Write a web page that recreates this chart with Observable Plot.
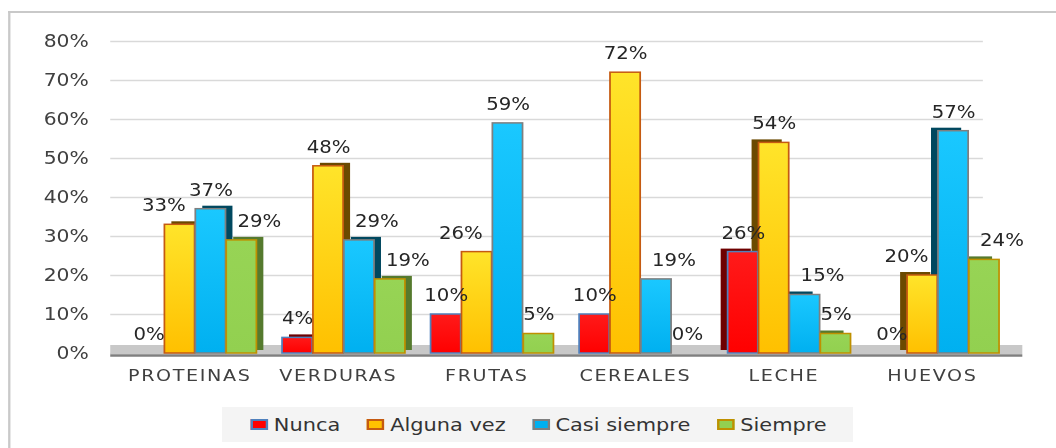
<!DOCTYPE html>
<html>
<head>
<meta charset="utf-8">
<script src="https://cdn.jsdelivr.net/npm/d3@7"></script>
<script src="https://cdn.jsdelivr.net/npm/@observablehq/plot@0.6"></script>
<style>
  html, body { margin: 0; padding: 0; background: #fff; overflow: hidden; }
  #wrap { position: relative; width: 910px; height: 448px; overflow: hidden; font-family: "DejaVu Sans", sans-serif;
          transform: scaleX(1.1604); transform-origin: 0 0; }
  #frame { position: absolute; left: 7px; top: 11px; width: 1200px; height: 600px; border-top: 2px solid #c9c9c9; border-left: 2px solid #c9c9c9; }
  #chart { position: absolute; left: 0; top: 0; }
  #legend { position: absolute; left: 191px; top: 407px; width: 543px; height: 35px; background: #f4f4f4; box-sizing: border-box;
            padding-left: 25px; display: flex; align-items: center; justify-content: flex-start; gap: 23px; font-size: 18px; color: #333; }
  .item { display: flex; align-items: center; gap: 5px; }
  .sw { width: 11px; height: 7px; border: 2px solid; display: inline-block; }
</style>
</head>
<body>
<div id="wrap">
  <div id="frame"></div>
  <div id="chart"></div>
  <div id="legend"></div>
</div>
<script>
const categories = ["PROTEINAS", "VERDURAS", "FRUTAS", "CEREALES", "LECHE", "HUEVOS"];
const series = ["Nunca", "Alguna vez", "Casi siempre", "Siempre"];
const nunca       = [0, 4, 10, 10, 26, 0];
const algunaVez   = [33, 48, 26, 72, 54, 20];
const casiSiempre = [37, 29, 59, 19, 15, 57];
const siempre     = [29, 19, 5, 0, 5, 24];
const yTicks = [0, 10, 20, 30, 40, 50, 60, 70, 80];

const fills     = ["#ff0000", "#ffc000", "#00b0f0", "#92d050"];
const fillsTop  = ["#ff1a1a", "#ffe42a", "#1ac8ff", "#97d455"];
const strokes   = ["#4f81bd", "#c55a11", "#7f7f7f", "#bf9000"];
const sides     = ["#6e0000", "#6b4a00", "#00485f", "#557a2e"];

const seriesValues = [nunca, algunaVez, casiSiempre, siempre];
// perspective: groups left of the centre show their right face, groups right of it their left face
const facing = i => (i < 2 ? 1 : i > 3 ? -1 : 0);
// wide labels move away from a taller neighbouring bar
const labelSide = (j, i) => {
  const v = seriesValues[j][i];
  if (j < 1 || v < 10) return 0;
  if (seriesValues[j - 1][i] > v) return 1;
  if (j < 3 && seriesValues[j + 1][i] > v) return -1;
  return 0;
};
const rows = series.map((s, j) => categories.map((c, i) => ({
  cat: c, series: s, value: seriesValues[j][i], face: facing(i), shift: labelSide(j, i)
})));

const W = 910, H = 395;
const mLeft = 95, mRight = 29, mTop = 41, mBottom = 42;
const pInner = 0.793, pOuter = 0.451;
const step = (W - mLeft - mRight) / (categories.length - pInner + 2 * pOuter);
const bw = step * (1 - pInner);

const marks = [
  Plot.ruleY(yTicks, {stroke: "#d9d9d9", strokeWidth: 1.5, insetRight: 34}),
  Plot.ruleY([0], {stroke: "#c8c8c8", strokeWidth: 9, dy: -4}),
  Plot.ruleY([0], {stroke: "#7f7f7f", strokeWidth: 2.5, dy: 2})
];
series.forEach((s, j) => {
  const off = (j - 1.5) * bw;
  [1, -1].forEach(f => {
    marks.push(Plot.barY(rows[j].filter(d => d.face === f), {x: "cat", y: "value", fill: sides[j], dx: off + 6 * f, dy: -3}));
  });
});
series.forEach((s, j) => {
  const off = (j - 1.5) * bw;
  marks.push(Plot.barY(rows[j], {x: "cat", y: "value", fill: `url(#grad${j})`, stroke: strokes[j], strokeWidth: 1.5, dx: off}));
});
series.forEach((s, j) => {
  const off = (j - 1.5) * bw;
  [[0, 0], [1, 15], [-1, -14]].forEach(([k, sh]) => {
    marks.push(Plot.text(rows[j].filter(d => d.shift === k), {x: "cat", y: "value", text: d => d.value + "%",
      dx: off + sh, dy: -19, fontSize: 17, fill: "#262626"}));
  });
});
marks.push(Plot.axisY(yTicks, {tickSize: 0, tickPadding: 19, tickFormat: d => d + "%", fontSize: 17.5, fill: "#404040"}));
marks.push(Plot.axisX({tickSize: 0, tickPadding: 16, fontSize: 16.5, fill: "#404040", dx: -5}));

const svg = Plot.plot({
  width: W, height: H,
  marginLeft: mLeft, marginRight: mRight, marginTop: mTop, marginBottom: mBottom,
  style: {fontFamily: "DejaVu Sans", background: "transparent", overflow: "visible"},
  x: {domain: categories, paddingInner: pInner, paddingOuter: pOuter, label: null},
  y: {domain: [0, 80], label: null},
  marks
});

// vertical gradients for the bar faces
const defs = d3.select(svg).insert("defs", ":first-child");
fills.forEach((f, j) => {
  const g = defs.append("linearGradient").attr("id", `grad${j}`).attr("x1", 0).attr("y1", 0).attr("x2", 0).attr("y2", 1);
  g.append("stop").attr("offset", "0%").attr("stop-color", fillsTop[j]);
  g.append("stop").attr("offset", "100%").attr("stop-color", f);
});
// x-axis labels letter spacing
d3.select(svg).selectAll("g[aria-label='x-axis tick label'] text").style("letter-spacing", "1.4px");
document.getElementById("chart").appendChild(svg);

const legend = document.getElementById("legend");
series.forEach((s, j) => {
  const item = document.createElement("div");
  item.className = "item";
  const sw = document.createElement("span");
  sw.className = "sw";
  sw.style.background = fills[j];
  sw.style.borderColor = strokes[j];
  const t = document.createElement("span");
  t.textContent = s;
  item.appendChild(sw); item.appendChild(t);
  legend.appendChild(item);
});
</script>
</body>
</html>
